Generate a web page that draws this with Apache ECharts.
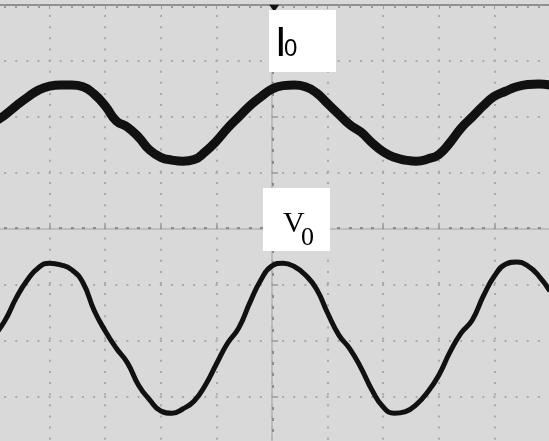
<!DOCTYPE html>
<html>
<head>
<meta charset="utf-8">
<script src="https://cdn.jsdelivr.net/npm/echarts@6/dist/echarts.min.js"></script>
<style>
  html, body { margin: 0; padding: 0; background: #d9d9d9; }
  #chart { width: 549px; height: 441px; }
</style>
</head>
<body>
<div id="chart"></div>
<script>
// time in divisions from the screen centre, values in divisions
const time = [-5.0, -4.8, -4.6, -4.4, -4.2, -4.0, -3.8, -3.6, -3.4, -3.2,
  -3.0, -2.8, -2.6, -2.4, -2.2, -2.0, -1.8, -1.6, -1.4, -1.2,
  -1.0, -0.8, -0.6, -0.4, -0.2, 0.0, 0.2, 0.4, 0.6, 0.8,
  1.0, 1.2, 1.4, 1.6, 1.8, 2.0, 2.2, 2.4, 2.6, 2.8,
  3.0, 3.2, 3.4, 3.6, 3.8, 4.0, 4.2, 4.4, 4.6, 4.8, 5.0]

const currentI0 = [1.91, 2.04, 2.20, 2.35, 2.48, 2.55, 2.57, 2.57, 2.54, 2.41,
  2.20, 1.93, 1.82, 1.64, 1.41, 1.28, 1.23, 1.21, 1.24, 1.38,
  1.57, 1.80, 2.00, 2.20, 2.36, 2.50, 2.56, 2.57, 2.54, 2.43,
  2.24, 2.05, 1.86, 1.73, 1.54, 1.38, 1.28, 1.23, 1.21, 1.25,
  1.33, 1.54, 1.80, 2.00, 2.20, 2.37, 2.46, 2.54, 2.58, 2.59, 2.57]

const voltageV0 = [-1.91, -1.63, -1.23, -0.91, -0.69, -0.61, -0.64, -0.73, -0.96, -1.45,
  -1.82, -2.13, -2.39, -2.79, -3.05, -3.25, -3.29, -3.21, -3.07, -2.79,
  -2.41, -2.04, -1.77, -1.32, -0.91, -0.66, -0.61, -0.67, -0.82, -1.07,
  -1.50, -1.89, -2.14, -2.48, -2.88, -3.18, -3.29, -3.26, -3.13, -2.91,
  -2.61, -2.20, -1.86, -1.63, -1.20, -0.84, -0.63, -0.59, -0.66, -0.84, -1.11]

const labelI0 = '{a|I}{b|0}'
const labelV0 = '{v|V}{s|0}'

const dotted = { color: '#a9a9a9', width: 2, type: [2, 9.12], dashOffset: 1 }
const centreLine = { color: '#b3b3b3', width: 1.5 }
const centreTick = { color: '#9a9a9a', width: 1.5 }
const centreDot = { color: '#8c8c8c', width: 3 }

const option = {
  backgroundColor: '#d9d9d9',
  animation: false,
  grid: { left: -6, top: 5, width: 556, height: 448, outerBoundsMode: 'none' },
  xAxis: [
    {
      type: 'value',
      min: -5,
      max: 5,
      interval: 1,
      axisLabel: { show: false },
      axisLine: { onZero: true, lineStyle: centreLine },
      axisTick: { inside: true, length: 6, lineStyle: centreTick },
      minorTick: { show: true, splitNumber: 5, length: 2, lineStyle: centreDot },
      splitLine: { show: true, lineStyle: dotted }
    },
    {
      type: 'value',
      position: 'top',
      min: -5,
      max: 5,
      interval: 1,
      axisLabel: { show: false },
      axisLine: { onZero: false, lineStyle: { color: '#8f8f8f', width: 2 } },
      axisTick: { inside: true, length: 4, lineStyle: { color: '#9a9a9a' } },
      minorTick: { show: true, splitNumber: 5, length: 3, lineStyle: { color: '#9a9a9a', width: 2 } },
      splitLine: { show: false }
    }
  ],
  yAxis: {
    type: 'value',
    min: -4,
    max: 4,
    interval: 1,
    axisLabel: { show: false },
    axisLine: { onZero: true, lineStyle: centreLine },
    axisTick: { inside: true, length: 6, lineStyle: centreTick },
    minorTick: { show: true, splitNumber: 5, length: 2, lineStyle: centreDot },
    splitLine: { show: true, lineStyle: dotted }
  },
  series: [
    {
      name: 'I0',
      type: 'line',
      data: time.map((t, i) => [t, currentI0[i]]),
      smooth: 0.5,
      showSymbol: false,
      lineStyle: { color: '#111', width: 9 },
      z: 5,
      markPoint: {
        silent: true,
        symbol: 'triangle',
        symbolRotate: 180,
        symbolSize: [10, 7],
        itemStyle: { color: '#111' },
        label: { show: false },
        data: [{ coord: [0.04, 3.94] }]
      }
    },
    {
      name: 'V0',
      type: 'line',
      data: time.map((t, i) => [t, voltageV0[i]]),
      smooth: 0.5,
      showSymbol: false,
      lineStyle: { color: '#111', width: 5 },
      z: 5
    }
  ],
  graphic: [
    { type: 'rect', z: 50, shape: { x: 269, y: 10, width: 67, height: 62 }, style: { fill: '#fff' } },
    {
      type: 'text',
      z: 51,
      x: 275,
      y: 21,
      style: {
        text: labelI0,
        fill: '#000',
        rich: {
          a: { fontSize: 42, fontFamily: 'Liberation Sans', width: 9, verticalAlign: 'bottom', lineHeight: 44 },
          b: { fontSize: 24, fontFamily: 'Liberation Sans', verticalAlign: 'bottom', lineHeight: 28, padding: [0, 0, 4, 0] }
        }
      }
    },
    { type: 'rect', z: 50, shape: { x: 263, y: 188, width: 67, height: 63 }, style: { fill: '#fff' } },
    {
      type: 'text',
      z: 51,
      x: 283,
      y: 219,
      style: {
        text: labelV0,
        fill: '#000',
        rich: {
          v: { fontSize: 30, fontFamily: 'Liberation Serif', width: 18, verticalAlign: 'bottom', lineHeight: 32, padding: [0, 0, 12, 0] },
          s: { fontSize: 26, fontFamily: 'Liberation Serif', verticalAlign: 'bottom', lineHeight: 28 }
        }
      }
    }
  ]
}

const chart = echarts.init(document.getElementById('chart'))
chart.setOption(option)
window.addEventListener('resize', chart.resize)
</script>
</body>
</html>
